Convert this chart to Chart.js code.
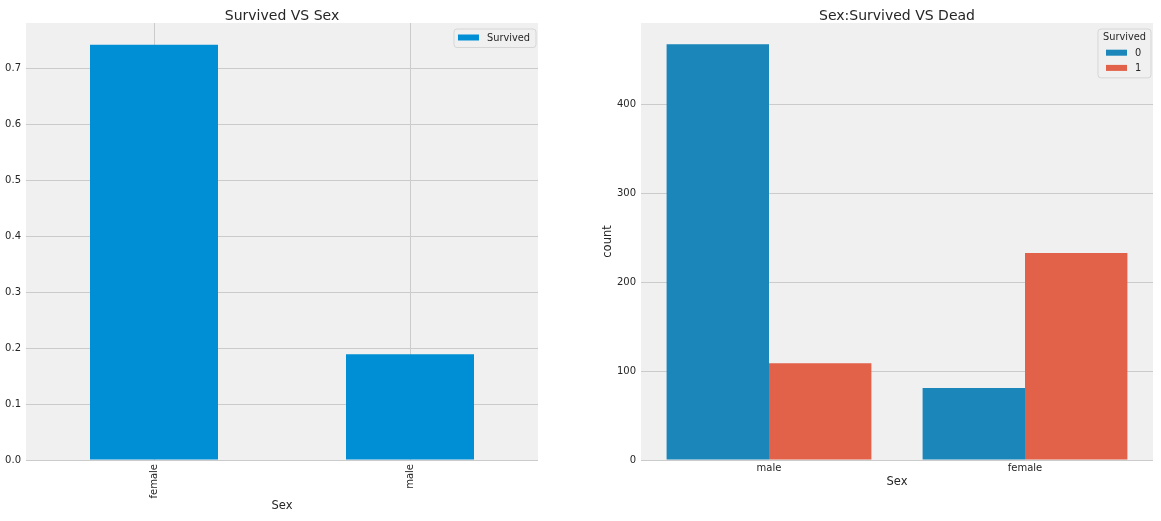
<!DOCTYPE html>
<html>
<head>
<meta charset="utf-8">
<title>Survived VS Sex</title>
<script src="https://cdn.jsdelivr.net/npm/chart.js@4.4.0/dist/chart.umd.min.js"></script>
<style>
  html, body { margin: 0; padding: 0; background: #ffffff; }
  #wrap { position: relative; width: 1161px; height: 521px; }
  #leftBox { position: absolute; left: 0; top: 0; }
  #rightBox { position: absolute; left: 580px; top: 0; }
</style>
</head>
<body>
<div id="wrap">
  <div id="leftBox"><canvas id="leftChart" width="560" height="521"></canvas></div>
  <div id="rightBox"><canvas id="rightChart" width="581" height="521"></canvas></div>
</div>
<script>
// Left: survival rate by sex
const leftCategories = ['female', 'male'];
const survivedRate = [0.742, 0.189];
const leftTicks = [0, 0.1, 0.2, 0.3, 0.4, 0.5, 0.6, 0.7];

// Right: counts of dead / survived by sex
const rightCategories = ['male', 'female'];
const deadCounts = [468, 81];
const survivedCounts = [109, 233];
const rightTicks = [0, 100, 200, 300, 400];

const FONT = 'DejaVu Sans';
const TEXT = '#262626';
const GRID = '#cbcbcb';

// axes background, title over the plot area and a legend inside it
const decor = {
  id: 'decor',
  beforeDraw(chart) {
    const { ctx, chartArea: a } = chart;
    ctx.save();
    ctx.fillStyle = '#f0f0f0';
    ctx.fillRect(a.left, a.top, a.right - a.left, a.bottom - a.top);
    ctx.restore();
  },
  afterDraw(chart, args, opts) {
    const { ctx, chartArea: a } = chart;
    ctx.save();
    // title
    ctx.fillStyle = TEXT;
    ctx.font = '14px "' + FONT + '"';
    ctx.textAlign = 'center';
    ctx.textBaseline = 'alphabetic';
    ctx.fillText(opts.title, (a.left + a.right) / 2, 19.5);

    // legend
    const lg = opts.legend;
    ctx.font = '9.8px "' + FONT + '"';
    const patchW = 21, gap = 8, pad = 5, rowH = 15.2;
    let inner = 0;
    chart.data.datasets.forEach(ds => {
      inner = Math.max(inner, patchW + gap + ctx.measureText(ds.label).width);
    });
    if (lg.title) inner = Math.max(inner, ctx.measureText(lg.title).width);
    const rows = chart.data.datasets.length + (lg.title ? 1 : 0);
    const w = inner + pad * 2;
    const h = 8.5 + (rows - 1) * rowH + 10;
    const x = a.right - 2 - w;
    const y = a.top + 6;
    ctx.beginPath();
    ctx.roundRect(x, y, w, h, 3);
    ctx.fillStyle = 'rgba(240,240,240,0.8)';
    ctx.fill();
    ctx.strokeStyle = '#d6d6d6';
    ctx.lineWidth = 1;
    ctx.stroke();

    let r = 0;
    ctx.textBaseline = 'middle';
    if (lg.title) {
      ctx.fillStyle = TEXT;
      ctx.textAlign = 'center';
      ctx.fillText(lg.title, x + w / 2, y + 8.5);
      r = 1;
    }
    const px = lg.title ? x + (w - (patchW + gap + 6)) / 2 - 1 : x + pad - 1;
    chart.data.datasets.forEach((ds, i) => {
      const cy = y + 8.5 + (r + i) * rowH;
      ctx.fillStyle = ds.backgroundColor;
      ctx.fillRect(px, cy - 3, patchW, 6);
      ctx.fillStyle = TEXT;
      ctx.textAlign = 'left';
      ctx.fillText(ds.label, px + patchW + gap, cy + 0.5);
    });
    ctx.restore();
  }
};

const tickFont = { family: FONT, size: 10 };
const labelFont = { family: FONT, size: 11.5 };

new Chart(document.getElementById('leftChart').getContext('2d'), {
  type: 'bar',
  data: {
    labels: leftCategories,
    datasets: [{
      label: 'Survived',
      data: survivedRate,
      backgroundColor: '#008fd5',
      barPercentage: 0.5,
      categoryPercentage: 1
    }]
  },
  options: {
    responsive: false,
    animation: false,
    devicePixelRatio: 1,
    layout: { padding: { top: 23, right: 22, left: 0, bottom: 0 } },
    plugins: {
      legend: { display: false },
      tooltip: { enabled: false },
      decor: { title: 'Survived VS Sex', legend: {} }
    },
    scales: {
      x: {
        grid: { color: GRID, offset: false, drawTicks: false },
        border: { display: false },
        ticks: { minRotation: 90, maxRotation: 90, padding: 4, font: tickFont, color: TEXT },
        title: { display: true, text: 'Sex', font: labelFont, color: TEXT, padding: { top: 0, bottom: 8.2 } },
        afterFit(s) { s.height = 61; }
      },
      y: {
        min: 0,
        max: 0.781,
        grid: { color: GRID, drawTicks: false },
        border: { display: false },
        ticks: { padding: 5, font: tickFont, color: TEXT, callback: v => v.toFixed(1) },
        afterBuildTicks(s) { s.ticks = leftTicks.map(v => ({ value: v })); },
        afterFit(s) { s.width = 26; }
      }
    }
  },
  plugins: [decor]
});

new Chart(document.getElementById('rightChart').getContext('2d'), {
  type: 'bar',
  data: {
    labels: rightCategories,
    datasets: [
      { label: '0', data: deadCounts, backgroundColor: '#1a86ba', barPercentage: 1, categoryPercentage: 0.8 },
      { label: '1', data: survivedCounts, backgroundColor: '#e26149', barPercentage: 1, categoryPercentage: 0.8 }
    ]
  },
  options: {
    responsive: false,
    animation: false,
    devicePixelRatio: 1,
    layout: { padding: { top: 23, right: 8, left: 0, bottom: 0 } },
    plugins: {
      legend: { display: false },
      tooltip: { enabled: false },
      decor: { title: 'Sex:Survived VS Dead', legend: { title: 'Survived' } }
    },
    scales: {
      x: {
        grid: { display: false, drawTicks: false },
        border: { display: false },
        ticks: { padding: 2, font: tickFont, color: TEXT, maxRotation: 0 },
        title: { display: true, text: 'Sex', font: labelFont, color: TEXT, padding: { top: 0, bottom: 32 } },
        afterFit(s) { s.height = 61; }
      },
      y: {
        min: 0,
        max: 492,
        grid: { color: GRID, drawTicks: false },
        border: { display: false },
        ticks: { padding: 5, font: tickFont, color: TEXT },
        title: { display: true, text: 'count', font: labelFont, color: TEXT, padding: { top: 21, bottom: 0 } },
        afterBuildTicks(s) { s.ticks = rightTicks.map(v => ({ value: v })); },
        afterFit(s) { s.width = 61; }
      }
    }
  },
  plugins: [decor]
});
</script>
</body>
</html>
